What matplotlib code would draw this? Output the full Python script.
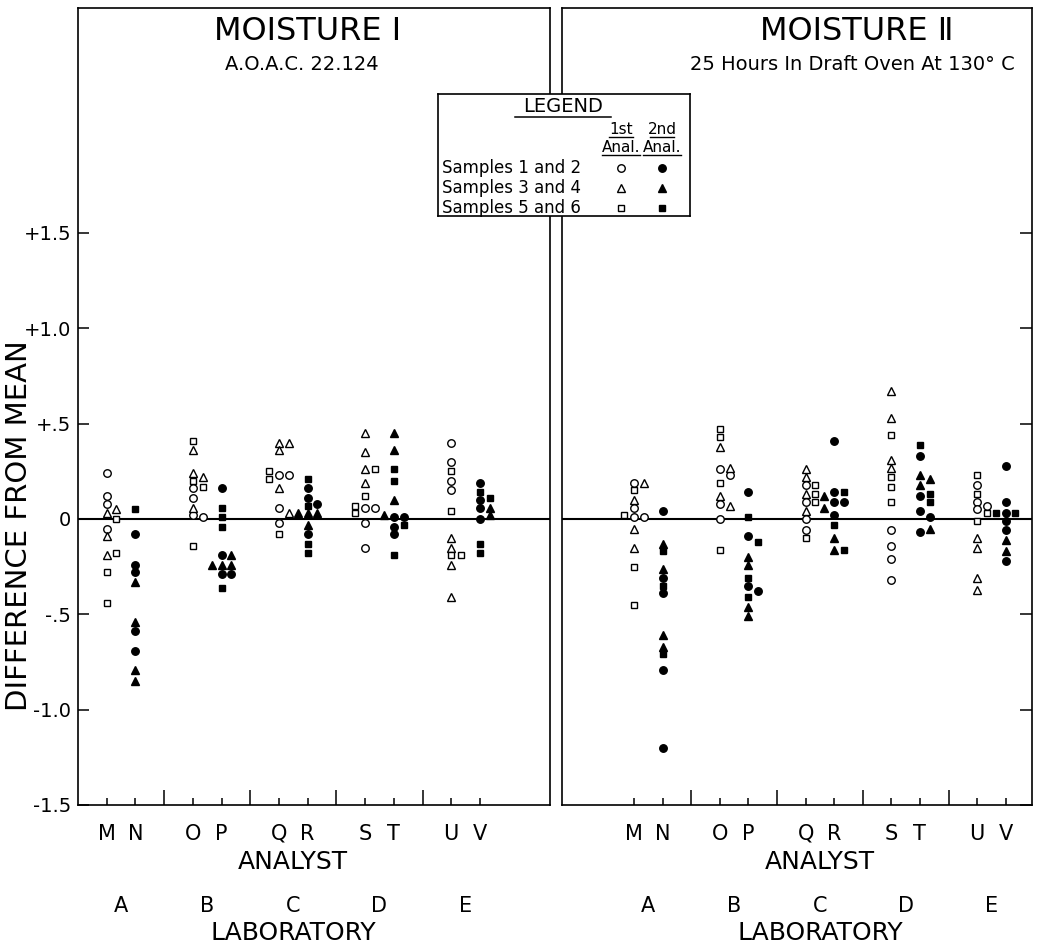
import matplotlib
matplotlib.use("Agg")
import matplotlib.pyplot as plt
from matplotlib import transforms

plt.rcParams["font.family"] = ["DejaVu Sans"]

# ---------------------------------------------------------------- data
analysts = ["M", "N", "O", "P", "Q", "R", "S", "T", "U", "V"]
laboratories = ["A", "B", "C", "D", "E"]
y_ticks = [-1.5, -1.0, -0.5, 0.0, 0.5, 1.0, 1.5]
y_tick_labels = ["-1.5", "-1.0", "-.5", "0", "+.5", "+1.0", "+1.5"]

# Moisture I (A.O.A.C. 22.124): difference from mean, per analyst
m1_samples_12 = {
    "M": [0.24, 0.12, 0.08, -0.05],
    "N": [-0.08, -0.24, -0.28, -0.59, -0.69],
    "O": [0.16, 0.11, 0.02, 0.01],
    "P": [0.16, -0.19, -0.29, -0.29],
    "Q": [0.23, 0.23, 0.06, -0.02],
    "R": [0.16, 0.11, 0.08, -0.08],
    "S": [0.06, 0.06, -0.02, -0.15],
    "T": [0.01, 0.01, -0.04, -0.08],
    "U": [0.40, 0.30, 0.20, 0.15],
    "V": [0.19, 0.10, 0.06, 0.00],
}
m1_samples_34 = {
    "M": [0.05, 0.03, -0.09, -0.19],
    "N": [-0.33, -0.54, -0.79, -0.85],
    "O": [0.36, 0.24, 0.22, 0.06],
    "P": [-0.19, -0.24, -0.24, -0.24],
    "Q": [0.40, 0.40, 0.36, 0.16, 0.03],
    "R": [0.03, 0.03, 0.03, -0.03],
    "S": [0.45, 0.35, 0.26, 0.19],
    "T": [0.45, 0.36, 0.10, 0.02],
    "U": [-0.10, -0.15, -0.24, -0.41],
    "V": [0.06, 0.02],
}
m1_samples_56 = {
    "M": [0.00, -0.18, -0.28, -0.44],
    "N": [0.05],
    "O": [0.41, 0.20, 0.17, -0.14],
    "P": [0.06, 0.01, -0.04, -0.36],
    "Q": [0.25, 0.21, -0.08],
    "R": [0.21, 0.07, -0.13, -0.18],
    "S": [0.26, 0.12, 0.07, 0.03],
    "T": [0.26, 0.20, -0.03, -0.19],
    "U": [0.25, 0.04, -0.19, -0.19],
    "V": [0.14, 0.11, -0.13, -0.18],
}

# Moisture II (25 hours in draft oven at 130 C)
m2_samples_12 = {
    "M": [0.19, 0.06, 0.01, 0.01],
    "N": [0.04, -0.31, -0.39, -0.79, -1.20],
    "O": [0.26, 0.23, 0.08, 0.00],
    "P": [0.14, -0.09, -0.35, -0.38],
    "Q": [0.18, 0.09, 0.00, -0.06],
    "R": [0.41, 0.14, 0.09, 0.09, 0.02],
    "S": [-0.06, -0.14, -0.21, -0.32],
    "T": [0.33, 0.12, 0.04, 0.01, -0.07],
    "U": [0.18, 0.09, 0.07, 0.05],
    "V": [0.28, 0.09, 0.03, -0.01, -0.06, -0.22],
}
m2_samples_34 = {
    "M": [0.19, 0.10, -0.05, -0.15],
    "N": [-0.13, -0.26, -0.61, -0.67],
    "O": [0.38, 0.27, 0.12, 0.07],
    "P": [-0.20, -0.24, -0.46, -0.51],
    "Q": [0.26, 0.22, 0.13, 0.04],
    "R": [0.12, 0.06, -0.10, -0.16],
    "S": [0.67, 0.53, 0.31, 0.27],
    "T": [0.23, 0.21, 0.18, -0.05],
    "U": [-0.10, -0.15, -0.31, -0.37],
    "V": [-0.11, -0.17],
}
m2_samples_56 = {
    "M": [0.15, 0.02, -0.25, -0.45],
    "N": [-0.17, -0.35, -0.71],
    "O": [0.47, 0.43, 0.19, -0.16],
    "P": [0.01, -0.12, -0.31, -0.41],
    "Q": [0.18, 0.13, 0.09, -0.10],
    "R": [0.14, -0.03, -0.16],
    "S": [0.44, 0.22, 0.17, 0.09],
    "T": [0.39, 0.13, 0.09],
    "U": [0.23, 0.13, 0.03, -0.01],
    "V": [0.03, 0.03],
}

# ---------------------------------------------------------------- layout
W, H = 1041, 948
fig = plt.figure(figsize=(W / 100, H / 100), dpi=100)


def fig_rect(x0, y0, x1, y1):
    return [x0 / W, 1 - y1 / H, (x1 - x0) / W, (y1 - y0) / H]


ax1 = fig.add_axes(fig_rect(78, 8, 550, 805))
ax2 = fig.add_axes(fig_rect(562, 8, 1032, 805))

# analysts sit in pairs, one gap between laboratories
pos = {a: 1 + i + i // 2 for i, a in enumerate(analysts)}
separators = [3, 6, 9, 12]
lab_pos = [(pos[analysts[2 * i]] + pos[analysts[2 * i + 1]]) / 2 for i in range(5)]

shape_style = [("o", 5.4), ("^", 6.2), ("s", 4.6)]
SLOT = 0.34


def dodge(values, thresh=0.033):
    placed = []
    slots = []
    for v in values:
        for s in (0, 1, -1, 2, -2):
            if all(not (ps == s and abs(pv - v) < thresh) for ps, pv in placed):
                break
        placed.append((s, v))
        slots.append(s)
    return slots


def draw_panel(ax, groups, xlim):
    for i, a in enumerate(analysts):
        filled = i % 2 == 1
        vals, marks = [], []
        for (mk, ms), grp in zip(shape_style, groups):
            for v in grp.get(a, []):
                vals.append(v)
                marks.append((mk, ms))
        slots = dodge(vals)
        for v, (mk, ms), s in zip(vals, marks, slots):
            ax.plot(pos[a] + s * SLOT, v, marker=mk, ms=ms, ls="none",
                    mfc="black" if filled else "white", mec="black",
                    mew=1.0, zorder=4)
    ax.axhline(0, color="black", lw=1.5, zorder=2)
    ax.set_xlim(*xlim)
    ax.set_ylim(-1.5, 2.68)
    for sp in ax.spines.values():
        sp.set_linewidth(1.2)
    ax.set_xticks([pos[a] for a in analysts])
    ax.set_xticks(separators, minor=True)
    ax.tick_params(axis="x", which="major", direction="in", length=5,
                   width=1.1, labelbottom=False)
    ax.tick_params(axis="x", which="minor", direction="in", length=11,
                   width=1.1, labelbottom=False)
    ax.set_yticks(y_ticks)

    tr = transforms.blended_transform_factory(ax.transData, fig.transFigure)
    for a in analysts:
        ax.text(pos[a], 1 - 834 / H, a, transform=tr, ha="center",
                va="center", fontsize=15)
    mid = (pos["M"] + pos["V"]) / 2
    ax.text(mid, 1 - 862 / H, "ANALYST", transform=tr, ha="center",
            va="center", fontsize=18)
    for x, lab in zip(lab_pos, laboratories):
        ax.text(x, 1 - 906 / H, lab, transform=tr, ha="center", va="center",
                fontsize=15)
    ax.text(mid, 1 - 933 / H, "LABORATORY", transform=tr, ha="center",
            va="center", fontsize=18)


draw_panel(ax1, [m1_samples_12, m1_samples_34, m1_samples_56], (0.0, 16.44))
draw_panel(ax2, [m2_samples_12, m2_samples_34, m2_samples_56], (-1.52, 14.92))

ax1.set_yticklabels(y_tick_labels, fontsize=14)
ax1.tick_params(axis="y", direction="in", length=8, width=1.1, pad=5,
                left=True, right=False)
ax2.yaxis.tick_right()
ax2.tick_params(axis="y", direction="in", length=9, width=1.1,
                labelright=False, right=True, left=False)

fig.text(19 / W, 1 - 526 / H, "DIFFERENCE FROM MEAN", rotation=90,
         ha="center", va="center", fontsize=21)

# panel headings
fig.text(308 / W, 1 - 32 / H, "MOISTURE Ⅰ", ha="center", va="center",
         fontsize=23)
fig.text(302 / W, 1 - 65 / H, "A.O.A.C. 22.124", ha="center", va="center",
         fontsize=14)
fig.text(857 / W, 1 - 32 / H, "MOISTURE Ⅱ", ha="center", va="center",
         fontsize=23)
fig.text(852 / W, 1 - 65 / H, "25 Hours In Draft Oven At 130° C",
         ha="center", va="center", fontsize=14)

# ---------------------------------------------------------------- legend box
lx0, ly0, lx1, ly1 = 438, 94, 690, 216
lax = fig.add_axes(fig_rect(lx0, ly0, lx1, ly1), zorder=5)
lax.set_xlim(lx0, lx1)
lax.set_ylim(ly1, ly0)
lax.set_xticks([])
lax.set_yticks([])
for sp in lax.spines.values():
    sp.set_linewidth(1.2)

lax.text(563, 107, "LEGEND", ha="center", va="center", fontsize=14)
lax.plot([515, 611], [117, 117], color="black", lw=1.1)
col_x = [621, 662]
for x, head in zip(col_x, ["1st", "2nd"]):
    lax.text(x, 129, head, ha="center", va="center", fontsize=11)
    lax.plot([x - 12, x + 12], [137, 137], color="black", lw=1.0)
    lax.text(x, 147, "Anal.", ha="center", va="center", fontsize=11)
    lax.plot([x - 19, x + 19], [155, 155], color="black", lw=1.0)

row_labels = ["Samples 1 and 2", "Samples 3 and 4", "Samples 5 and 6"]
for k, ((mk, ms), text) in enumerate(zip(shape_style, row_labels)):
    y = 168 + 20 * k
    lax.text(442, y, text, ha="left", va="center", fontsize=12)
    lax.plot(col_x[0], y, marker=mk, ms=ms, mfc="white", mec="black",
             mew=1.0, ls="none")
    lax.plot(col_x[1], y, marker=mk, ms=ms, mfc="black", mec="black",
             mew=1.0, ls="none")

fig.savefig("out.png", dpi=100, facecolor="white")
